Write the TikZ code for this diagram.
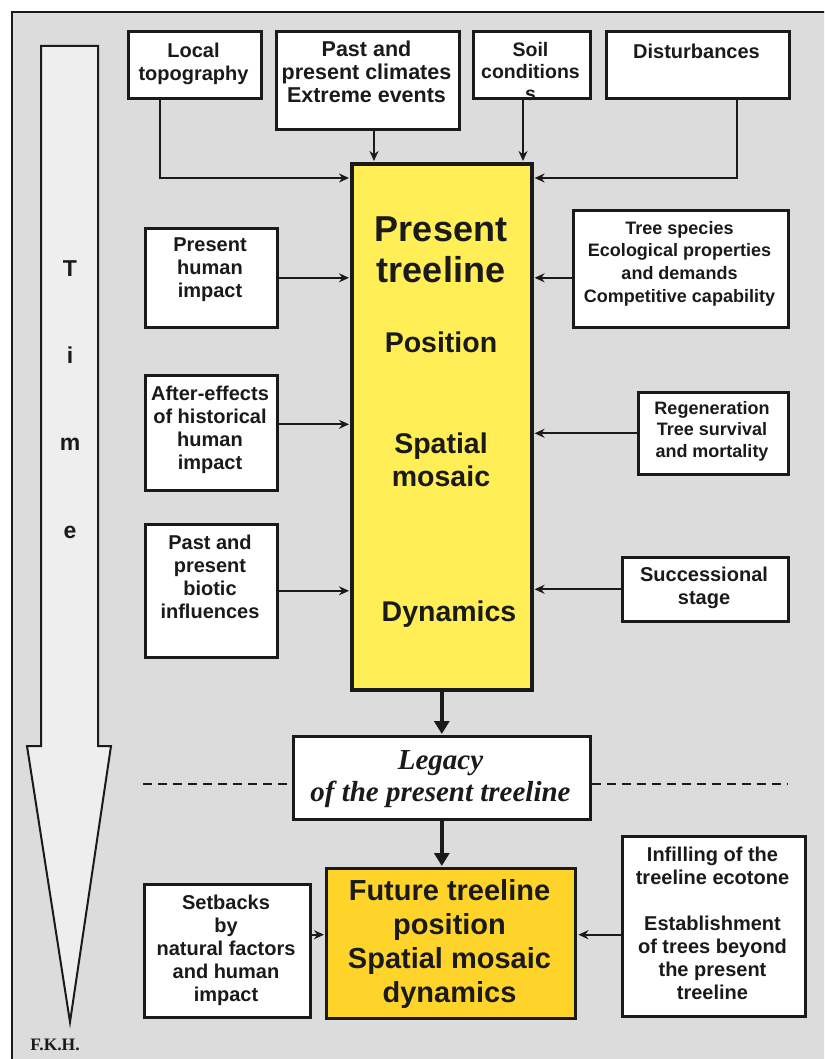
\documentclass[tikz,border=0pt]{standalone}
\usepackage{fontspec}
\setmainfont{Liberation Sans}
\newfontfamily\timesf{Liberation Serif}
\usetikzlibrary{arrows.meta,calc}
\definecolor{bg}{HTML}{DCDCDC}
\definecolor{arrowfill}{HTML}{EEEEEE}
\definecolor{mainy}{HTML}{FFEE55}
\definecolor{futy}{HTML}{FFD42A}
\definecolor{ink}{HTML}{1A1A1A}
\begin{document}
\begin{tikzpicture}[x=1pt,y=-1pt,
  box/.style={draw=ink, line width=2.6pt, fill=white, inner sep=0pt, anchor=north west},
  txt/.style={anchor=north, inner sep=0pt, align=center, text=ink,
    font=\fontsize{20}{23}\selectfont\bfseries, execute at begin node=\strut},
  arr/.style={draw=ink, line width=1.8pt, shorten >=1pt, -{Stealth[length=10pt,width=9pt]}},
  bigarr/.style={draw=ink, line width=4pt, shorten >=1pt, -{Triangle[length=13pt,width=15pt]}},
  dashline/.style={draw=ink, line width=1.8pt, dash pattern=on 9pt off 6pt},
  timeletter/.style={anchor=base, inner sep=0pt, text=ink, font=\fontsize{23}{23}\selectfont\bfseries},
]
\useasboundingbox (0,0) rectangle (824,1059);
\clip (0,0) rectangle (824,1059);
\fill[white] (0,0) rectangle (824,1059);
\draw[line width=2pt, draw=ink, fill=bg] (12,12) rectangle (840,1080);

% time arrow
\draw[line width=2pt, draw=ink, fill=arrowfill, line join=miter]
  (41,46) -- (98,46) -- (98,746) -- (111,746) -- (70,1022) -- (27,746) -- (41,746) -- cycle;
\node[timeletter] (tT) at (70,276) {T};
\node[timeletter] (ti) at (70,363) {i};
\node[timeletter] (tm) at (70,450) {m};
\node[timeletter] (te) at (70,538) {e};
\node[anchor=base, inner sep=0pt, text=ink, font=\timesf\fontsize{17.5}{17.5}\selectfont\bfseries] (fkh) at (55,1050) {F.K.H.};

% top boxes
\node[box, minimum width=133pt, minimum height=67pt] (topo) at (127,30) {};
\node[txt] (topoT) at (193.5,43) {Local\\topography};
\node[box, minimum width=183pt, minimum height=98pt] (clim) at (275,30) {};
\node[txt, font=\fontsize{21.5}{23}\selectfont\bfseries] (climT) at (366.5,41) {Past and\\present climates\\Extreme events};
\node[box, minimum width=117pt, minimum height=67pt] (soil) at (472,30) {};
\node[box, minimum width=183pt, minimum height=67pt] (dist) at (605,30) {};
\node[txt] (distT) at (696.5,42) {Disturbances};

% main box
\node[box, line width=3.6pt, fill=mainy, minimum width=180pt, minimum height=526pt] (main) at (350,162) {};
\node[anchor=base, inner sep=0pt, text=ink, font=\fontsize{36}{36}\selectfont\bfseries] (mP) at (441,242) {Present};
\node[anchor=base, inner sep=0pt, text=ink, font=\fontsize{36}{36}\selectfont\bfseries] (mT) at (441,282) {treeline};
\node[anchor=base, inner sep=0pt, text=ink, font=\fontsize{28.5}{28.5}\selectfont\bfseries] (mPos) at (441,352) {Position};
\node[anchor=base, inner sep=0pt, text=ink, font=\fontsize{28.5}{28.5}\selectfont\bfseries] (mSp) at (441,453) {Spatial};
\node[anchor=base, inner sep=0pt, text=ink, font=\fontsize{28.5}{28.5}\selectfont\bfseries] (mMo) at (441,486) {mosaic};
\node[anchor=base, inner sep=0pt, text=ink, font=\fontsize{28.5}{28.5}\selectfont\bfseries] (mDy) at (449,621) {Dynamics};

% soil text after main so the stray s sits on top
\node[txt, font=\fontsize{19.5}{22}\selectfont\bfseries] (soilT) at (530.5,42) {Soil\\conditions\\s};

% left boxes
\node[box, minimum width=132pt, minimum height=99pt] (phi) at (144,227) {};
\node[txt] (phiT) at (210,238) {Present\\human\\impact};
\node[box, minimum width=132pt, minimum height=115pt] (aeh) at (144,374) {};
\node[txt] (aehT) at (210,386) {After-effects\\of historical\\human\\impact};
\node[box, minimum width=132pt, minimum height=133pt] (bio) at (144,523) {};
\node[txt] (bioT) at (210,535) {Past and\\present\\biotic\\influences};

% right boxes
\node[box, minimum width=215pt, minimum height=117pt] (spec) at (572,209) {};
\node[txt, font=\fontsize{18}{22.7}\selectfont\bfseries] (specT) at (679.5,221) {Tree species\\Ecological properties\\and demands\\Competitive capability};
\node[box, minimum width=150pt, minimum height=82pt] (regen) at (637,391) {};
\node[txt, font=\fontsize{18}{21.5}\selectfont\bfseries] (regenT) at (712,401) {Regeneration\\Tree survival\\and mortality};
\node[box, minimum width=166pt, minimum height=64pt] (succ) at (621,556) {};
\node[txt] (succT) at (704,567) {Successional\\stage};

% legacy
\node[box, minimum width=297pt, minimum height=83pt] (legacy) at (292,735) {};
\node[txt, font=\timesf\fontsize{29}{32}\selectfont\bfseries\itshape] (legacyT) at (440.5,750.6) {Legacy\\of the present treeline};

% future
\node[box, line width=3.4pt, fill=futy, minimum width=249pt, minimum height=150pt] (future) at (325,867) {};
\node[txt, font=\fontsize{29}{34}\selectfont\bfseries] (futureT) at (449.5,879.2) {Future treeline\\position\\Spatial mosaic\\dynamics};
\node[box, minimum width=166pt, minimum height=133pt] (setb) at (143,883) {};
\node[txt] (setbT) at (226,895) {Setbacks\\by\\natural factors\\and human\\impact};
\node[box, minimum width=183pt, minimum height=180pt] (infil) at (621,835) {};
\node[txt] (infilT) at (712.5,847) {Infilling of the\\treeline ecotone\\[23pt]Establishment\\of trees beyond\\the present\\treeline};

% connectors top
\coordinate (topoX) at ($(topo.south west)+(33,0)$);
\coordinate (climX) at ($(clim.south west)+(99,0)$);
\coordinate (soilX) at ($(soil.south west)+(51,0)$);
\coordinate (distX) at ($(dist.south west)+(132,0)$);
\coordinate (mainNW) at ($(main.north west)+(0,16)$);
\coordinate (mainNE) at ($(main.north east)+(0,16)$);
\draw[arr] (topoX) |- (mainNW);
\draw[arr] (climX) -- (climX |- main.north);
\draw[arr] (soilX) -- (soilX |- main.north);
\draw[arr] (distX) |- (mainNE);

% side connectors
\draw[arr] (phi.east) -- (phi.east -| main.west);
\coordinate (aehY) at ($(aeh.east)+(0,-8.5)$);
\draw[arr] (aehY) -- (aehY -| main.west);
\draw[arr] (bio.east) -- (bio.east -| main.west);
\coordinate (specY) at ($(spec.west)+(0,9)$);
\draw[arr] (specY) -- (specY -| main.east);
\draw[arr] (regen.west) -- (regen.west -| main.east);
\draw[arr] (succ.west) -- (succ.west -| main.east);

% big arrows
\draw[bigarr] (main.south) -- (legacy.north -| main.south);
\draw[bigarr] (legacy.south -| main.south) -- (future.north -| main.south);

% dashed line
\coordinate (dashL) at (143,784);
\coordinate (dashR) at (787,784);
\draw[dashline] (dashL) -- (dashL -| legacy.west);
\draw[dashline] (dashR -| legacy.east) -- (dashR);

% bottom connectors
\coordinate (futY) at ($(future.west)+(0,-9)$);
\draw[arr] (futY -| setb.east) -- (futY);
\draw[arr] (futY -| infil.west) -- (futY -| future.east);
\end{tikzpicture}
\end{document}
